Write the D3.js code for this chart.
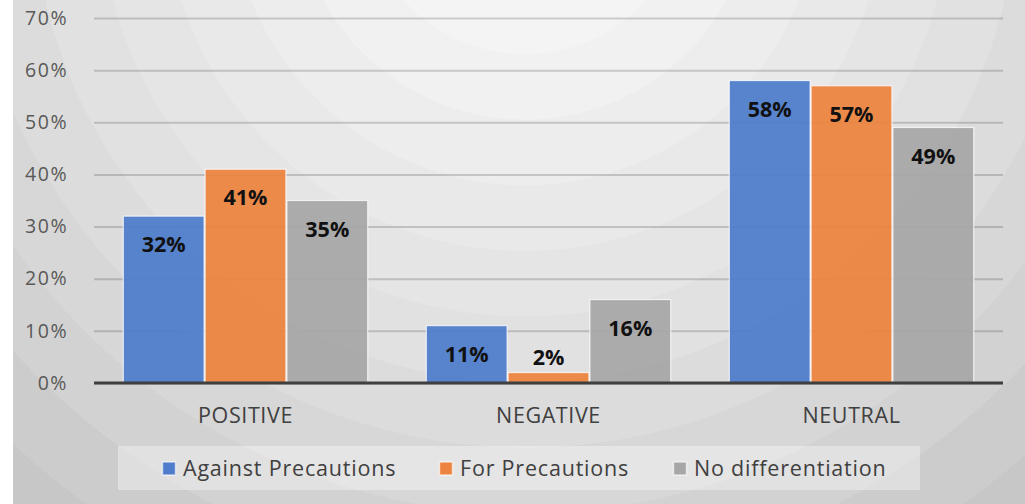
<!DOCTYPE html>
<html>
<head>
<meta charset="utf-8">
<script src="https://cdn.jsdelivr.net/npm/d3@7"></script>
<style>
  html, body { margin: 0; padding: 0; background: #ffffff; }
  svg { display: block; }
</style>
</head>
<body>
<svg id="chart" width="1025" height="504"></svg>
<script>
// Sentiment categories and the three series shown per category
const categories = ["POSITIVE", "NEGATIVE", "NEUTRAL"];
const seriesNames = ["Against Precautions", "For Precautions", "No differentiation"];
const againstPrecautions = [0.32, 0.11, 0.58];
const forPrecautions = [0.41, 0.02, 0.57];
const noDifferentiation = [0.35, 0.16, 0.49];
const yTicks = [0, 0.1, 0.2, 0.3, 0.4, 0.5, 0.6, 0.7];

const seriesValues = [againstPrecautions, forPrecautions, noDifferentiation];
const colors = ["#4f7ccb", "#ec8440", "#a7a7a7"];

const W = 1025, H = 504;
const margin = { left: 94, right: 22, top: 18, bottom: 121 };
const svg = d3.select("#chart");
const defs = svg.append("defs");

// Banded radial backdrop, brightest at the top centre
const grad = defs.append("radialGradient")
  .attr("id", "bg")
  .attr("gradientUnits", "userSpaceOnUse")
  .attr("cx", 525).attr("cy", -110).attr("r", 820);
const bands = ["#f7f7f7", "#f4f4f4", "#f1f1f1", "#ededed", "#e9e9e9", "#e5e5e5",
               "#e1e1e1", "#dcdcdc", "#d7d7d7", "#d2d2d2", "#cccccc", "#c7c7c7", "#c2c2c2"];
bands.forEach((c, i) => {
  const a = i === 0 ? 0 : 0.12 + (i - 1) * 0.08;
  const b = i === 0 ? 0.12 : Math.min(1, 0.12 + i * 0.08);
  grad.append("stop").attr("offset", a).attr("stop-color", c);
  grad.append("stop").attr("offset", b).attr("stop-color", c);
});

svg.append("rect").attr("width", W).attr("height", H).attr("fill", "#ffffff");
svg.append("rect").attr("x", 13).attr("y", 0).attr("width", W - 13).attr("height", H).attr("fill", "url(#bg)");

const x0 = d3.scaleBand()
  .domain(categories)
  .range([margin.left, W - margin.right])
  .paddingInner(0.19)
  .paddingOuter(0.095);

const x1 = d3.scaleBand()
  .domain(seriesNames)
  .range([0, x0.bandwidth()]);

const y = d3.scaleLinear()
  .domain([0, 0.7])
  .range([H - margin.bottom, margin.top]);

// Horizontal gridlines and percentage labels
const yAxis = d3.axisLeft(y)
  .tickValues(yTicks)
  .tickFormat(d3.format(".0%"))
  .tickSize(-(W - margin.right - margin.left))
  .tickPadding(26);

const gy = svg.append("g")
  .attr("transform", `translate(${margin.left},0)`)
  .call(yAxis);
gy.select(".domain").remove();
gy.selectAll(".tick line")
  .attr("stroke", "rgba(0,0,0,0.17)")
  .attr("stroke-width", 2);
gy.selectAll(".tick text")
  .attr("fill", "#595959")
  .style("font-family", "'Open Sans', sans-serif")
  .style("font-size", "19.5px")
  .style("letter-spacing", "1.5px");

// Bars
const rows = categories.map((c, i) => ({
  category: c,
  values: seriesNames.map((s, j) => ({ series: s, value: seriesValues[j][i], color: colors[j] }))
}));

const groups = svg.append("g").selectAll("g")
  .data(rows)
  .join("g")
  .attr("transform", d => `translate(${x0(d.category)},0)`);

groups.selectAll("rect")
  .data(d => d.values)
  .join("rect")
  .attr("x", d => x1(d.series) + 0.5)
  .attr("y", d => y(d.value))
  .attr("width", x1.bandwidth() - 1)
  .attr("height", d => y(0) - y(d.value))
  .attr("fill", d => d.color)
  .attr("fill-opacity", 0.94)
  .attr("stroke", "rgba(255,255,255,0.75)")
  .attr("stroke-width", 1.2);

// Value labels inside the top of each bar
groups.selectAll("text.value")
  .data(d => d.values)
  .join("text")
  .attr("class", "value")
  .attr("x", d => x1(d.series) + x1.bandwidth() / 2)
  .attr("y", d => Math.min(y(d.value) + 36, y(0) - 18))
  .attr("text-anchor", "middle")
  .attr("fill", "#111111")
  .style("font-family", "'Open Sans', sans-serif")
  .style("font-weight", "700")
  .style("font-size", "21.5px")
  .text(d => d3.format(".0%")(d.value));

// Category axis
const xAxis = d3.axisBottom(x0).tickSize(0).tickPadding(25);
const gx = svg.append("g")
  .attr("transform", `translate(0,${y(0)})`)
  .call(xAxis);
gx.select(".domain").remove();
gx.selectAll(".tick text")
  .attr("fill", "#404040")
  .style("font-family", "'Open Sans', sans-serif")
  .style("font-size", "21.5px")
  .style("letter-spacing", "0.6px");

svg.append("line")
  .attr("x1", margin.left).attr("x2", W - margin.right)
  .attr("y1", y(0)).attr("y2", y(0))
  .attr("stroke", "#3f3f3f")
  .attr("stroke-width", 3);

// Legend
const legend = svg.append("g");
legend.append("rect")
  .attr("x", 118).attr("y", 446)
  .attr("width", 802).attr("height", 44)
  .attr("fill", "rgba(255,255,255,0.35)");

const legendX = [162, 439, 673];
const items = legend.selectAll("g.item")
  .data(seriesNames)
  .join("g")
  .attr("class", "item")
  .attr("transform", (d, i) => `translate(${legendX[i]},468.5)`);
items.append("rect")
  .attr("x", 0.5).attr("y", -6.5)
  .attr("width", 13).attr("height", 13)
  .attr("fill", (d, i) => colors[i])
  .attr("stroke", "rgba(255,255,255,0.6)")
  .attr("stroke-width", 1.5);
items.append("text")
  .attr("x", 21).attr("y", 0)
  .attr("dy", "0.35em")
  .attr("fill", "#404040")
  .style("font-family", "'Open Sans', sans-serif")
  .style("font-size", "21.5px")
  .style("letter-spacing", "0.8px")
  .text(d => d);
</script>
</body>
</html>
